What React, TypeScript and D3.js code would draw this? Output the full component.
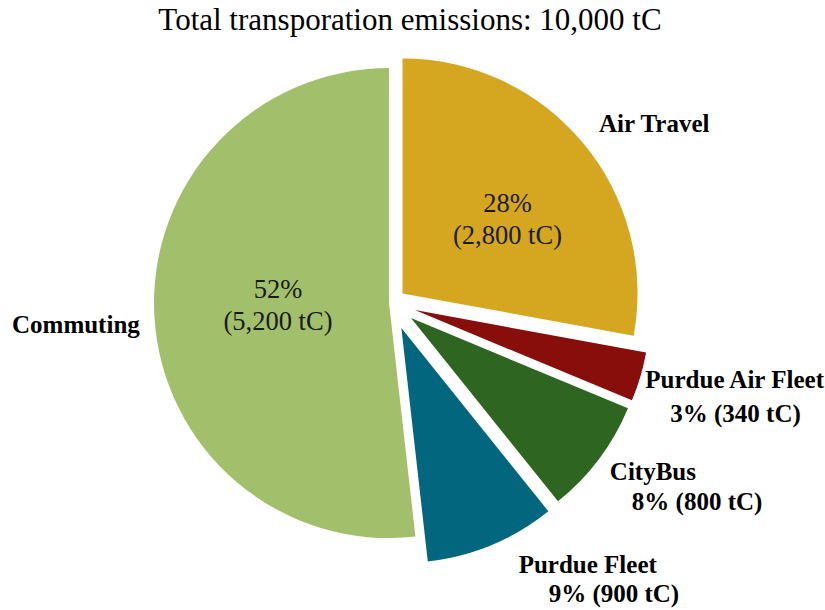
import React from "react";
import * as d3 from "d3";

const title = "Total transporation emissions: 10,000 tC";
const categories = ["Air Travel", "Purdue Air Fleet", "CityBus", "Purdue Fleet", "Commuting"];
const values = [2800, 340, 800, 900, 5200];
const percentLabels = ["28%", "3%", "8%", "9%", "52%"];
const amountLabels = ["2,800 tC", "340 tC", "800 tC", "900 tC", "5,200 tC"];
const colors = ["#D5A620", "#870E0A", "#2E6520", "#03667F", "#A2C06B"];
const explode = [15, 25, 25, 27, 2];
const labelInside = [true, false, false, false, true];

// layout adjustments (pixels)
const insideAdjust = [[14.7, 0.5], [0, 0], [0, 0], [0, 0], [6.3, -4.4]];
const outsideLine1 = [[16, -11], [5, 11], [11, 21], [27, 28], [0, 0]];
const outsideLine2 = [[0, 0], [30, 45], [33, 51], [57, 57], [0, 0]];

const W = 825;
const H = 610;
const cx = 391;
const cy = 303;
const R = 235;
const FONT = "'Liberation Serif', 'Times New Roman', serif";

export default function App() {
  const pie = d3.pie<number>().sort(null).value((d) => d)(values);
  const arc = d3.arc<d3.PieArcDatum<number>>().innerRadius(0).outerRadius(R);

  return (
    <svg
      width={W}
      height={H}
      style={{ position: "absolute", left: 0, top: 0, background: "#fff" }}
      fontFamily={FONT}
    >
      <text x={410} y={30} textAnchor="middle" fontSize={31} fill="#000">
        {title}
      </text>
      <g transform={`translate(${cx},${cy})`}>
        {pie.map((p, i) => {
          const mid = (p.startAngle + p.endAngle) / 2;
          const ox = explode[i] * Math.sin(mid);
          const oy = -explode[i] * Math.cos(mid);
          return (
            <g key={categories[i]} transform={`translate(${ox},${oy})`}>
              <path d={arc(p) || ""} fill={colors[i]} />
            </g>
          );
        })}
        {pie.map((p, i) => {
          const mid = (p.startAngle + p.endAngle) / 2;
          const ax = explode[i] * Math.sin(mid);
          const ay = -explode[i] * Math.cos(mid);
          const px = ax + R * Math.sin(mid);
          const py = ay - R * Math.cos(mid);
          if (labelInside[i]) {
            const lr = R * 0.5;
            const lx = ax + lr * Math.sin(mid) + insideAdjust[i][0];
            const ly = ay - lr * Math.cos(mid) + insideAdjust[i][1];
            return (
              <g key={"l" + i}>
                <text x={lx} y={ly - 7} textAnchor="middle" fontSize={26.5} fill="#1a1a1a">
                  {percentLabels[i]}
                </text>
                <text x={lx} y={ly + 25} textAnchor="middle" fontSize={26.5} fill="#1a1a1a">
                  {`(${amountLabels[i]})`}
                </text>
                <text
                  x={i === 0 ? px + outsideLine1[0][0] : -cx + 12}
                  y={i === 0 ? py + outsideLine1[0][1] : 30}
                  textAnchor="start"
                  fontSize={25}
                  fontWeight="bold"
                  fill="#000"
                >
                  {categories[i]}
                </text>
              </g>
            );
          }
          return (
            <g key={"l" + i}>
              <text
                x={px + outsideLine1[i][0]}
                y={py + outsideLine1[i][1]}
                fontSize={25}
                fontWeight="bold"
                fill="#000"
              >
                {categories[i]}
              </text>
              <text
                x={px + outsideLine2[i][0]}
                y={py + outsideLine2[i][1]}
                fontSize={25}
                fontWeight="bold"
                fill="#000"
              >
                {`${percentLabels[i]} (${amountLabels[i]})`}
              </text>
            </g>
          );
        })}
      </g>
    </svg>
  );
}
